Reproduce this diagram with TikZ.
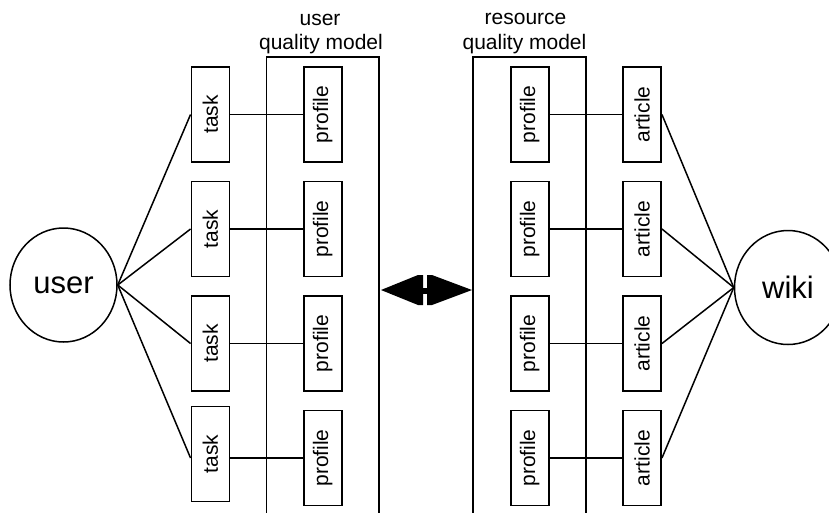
\documentclass[tikz,border=0pt]{standalone}
\usepackage{fontspec}
\setmainfont{Liberation Sans}
\usetikzlibrary{shapes.geometric}
\begin{document}
\begin{tikzpicture}[x=1pt,y=-1pt,line width=1.5pt,
  every node/.style={font=\fontsize{21}{24}\selectfont},
  box/.style={draw, line width=1.5pt, minimum width=38pt, minimum height=95pt, inner sep=0pt},
  actor/.style={draw, ellipse, line width=1.5pt, minimum width=107pt, minimum height=114pt,
    inner sep=0pt, font=\fontsize{31}{36}\selectfont},
  title/.style={anchor=base, inner sep=0pt},
  link/.style={line width=1.5pt}]
\useasboundingbox (0,0) rectangle (829,512);
\clip (0,0) rectangle (829,512);

% actors
\node[actor] (user) at (63.5,285) {user};
\node[actor] (wiki) at (788,287.5) {wiki};

% the two quality-model containers (open at the bottom)
\draw (266.7,520) |- (379,57) -- (379,520);
\draw (473,520) |- (586,57) -- (586,520);
\node[title] (ut1) at (320,25) {user};
\node[title] (ut2) at (321,49.5) {quality model};
\node[title] (rt1) at (525.5,24.5) {resource};
\node[title] (rt2) at (524.5,49.5) {quality model};

% task boxes
\node[box] (t1) at (210.3,114.5) {\rotatebox{90}{task}};
\node[box] (t2) at (210.3,229) {\rotatebox{90}{task}};
\node[box] (t3) at (210.3,343.5) {\rotatebox{90}{task}};
\node[box] (t4) at (210.3,454) {\rotatebox{90}{task}};

% user-side profiles
\node[box] (pu1) at (322.8,114.5) {\rotatebox{90}{profile}};
\node[box] (pu2) at (322.8,229) {\rotatebox{90}{profile}};
\node[box] (pu3) at (322.8,343.5) {\rotatebox{90}{profile}};
\node[box] (pu4) at (322.8,458) {\rotatebox{90}{profile}};

% resource-side profiles
\node[box] (pr1) at (529.8,114.5) {\rotatebox{90}{profile}};
\node[box] (pr2) at (529.8,229) {\rotatebox{90}{profile}};
\node[box] (pr3) at (529.8,343.5) {\rotatebox{90}{profile}};
\node[box] (pr4) at (529.8,458) {\rotatebox{90}{profile}};

% articles
\node[box] (a1) at (642.2,114.5) {\rotatebox{90}{article}};
\node[box] (a2) at (642.2,229) {\rotatebox{90}{article}};
\node[box] (a3) at (642.2,343.5) {\rotatebox{90}{article}};
\node[box] (a4) at (642.2,458) {\rotatebox{90}{article}};

% connectors
\foreach \i in {1,...,4}{
  \draw[link] (user.east) -- (t\i.west |- pu\i.west);
  \draw[link] (t\i.east |- pu\i.west) -- (pu\i.west);
  \draw[link] (pr\i.east) -- (a\i.west);
  \draw[link] (a\i.east) -- (wiki.west);
}

% double-headed exchange arrow between the two models
\fill (381,290) -- (418,275) -- (423,275) -- (423,305) -- (418,305) -- cycle;
\fill (423,288) rectangle (427,294);
\fill (472,290) -- (432,275) -- (427,275) -- (427,305) -- (432,305) -- cycle;
\end{tikzpicture}
\end{document}
